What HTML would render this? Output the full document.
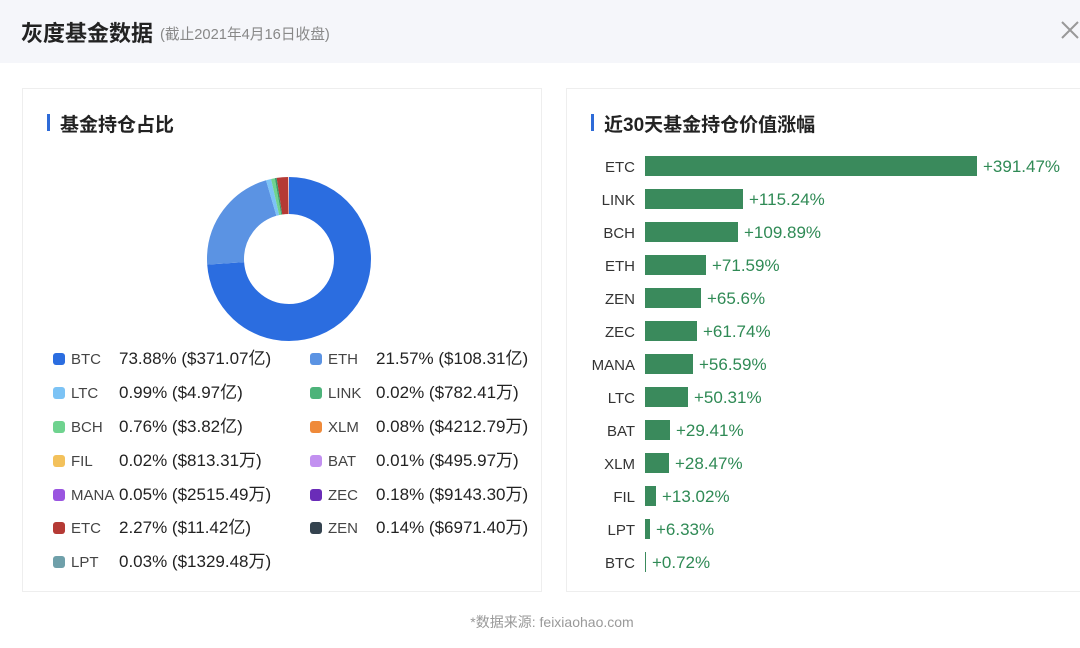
<!DOCTYPE html>
<html><head><meta charset="utf-8"><style>
body{margin:0;width:1080px;height:648px;overflow:hidden;background:#fff;font-family:"Liberation Sans","Noto Sans CJK SC",sans-serif;position:relative}
.hd{position:absolute;left:0;top:0;width:1080px;height:63px;background:#f5f6fa}
.t{position:absolute;left:21px;top:16px;font-size:22px;font-weight:bold;color:#222}
.st{position:absolute;left:160px;top:23px;font-size:14.7px;color:#888}
.card{position:absolute;border:1px solid #eee;background:#fff}
.ct{position:absolute;font-size:19px;color:#222;font-weight:bold}
.ct:before{content:"";position:absolute;left:-13px;top:4px;width:3px;height:17px;background:#2e6bd8}
.lg{position:absolute;font-size:15px;color:#333}
.lg .sw{position:absolute;left:0;top:3px;width:12px;height:12px;border-radius:3px}
.lg .n{position:absolute;left:18px;top:1px;color:#444}
.lg .v{position:absolute;left:66px;top:-6px;font-size:17px;color:#222;white-space:nowrap}
.row{position:absolute;left:566px;height:20px;width:514px}
.row .l{position:absolute;right:445px;top:3px;font-size:15px;color:#333}
.row .b{position:absolute;left:79px;top:0;height:20px;background:#3a8a5c}
.row .p{position:absolute;top:1px;font-size:17px;color:#2f8a55}
</style></head><body>
<div class="hd"></div>
<div class="t">灰度基金数据</div>
<div class="st">(截止2021年4月16日收盘)</div>
<svg style="position:absolute;left:1060px;top:20px" width="20" height="20"><path d="M2 2L18 18M18 2L2 18" stroke="#999" stroke-width="2"/></svg>
<div class="card" style="left:22px;top:88px;width:518px;height:502px"></div>
<div class="card" style="left:566px;top:88px;width:520px;height:502px"></div>
<div class="ct" style="left:60px;top:110px">基金持仓占比</div>
<div class="ct" style="left:604px;top:110px">近30天基金持仓价值涨幅</div>
<svg style="position:absolute;left:189px;top:159px" width="200" height="200" viewBox="0 0 200 200">
<g transform="rotate(-90 100 100)" fill="none" stroke-width="37">
<circle cx="100" cy="100" r="63.5" stroke="#2b6de0" stroke-dasharray="294.7 400" stroke-dashoffset="0"/>
<circle cx="100" cy="100" r="63.5" stroke="#5b93e3" stroke-dasharray="86.1 400" stroke-dashoffset="-294.7"/>
<circle cx="100" cy="100" r="63.5" stroke="#7cc3f5" stroke-dasharray="4 400" stroke-dashoffset="-380.8"/>
<circle cx="100" cy="100" r="63.5" stroke="#6fd38f" stroke-dasharray="3 400" stroke-dashoffset="-384.8"/>
<circle cx="100" cy="100" r="63.5" stroke="#3a9a6a" stroke-dasharray="1.4 400" stroke-dashoffset="-387.8"/>
<circle cx="100" cy="100" r="63.5" stroke="#b53a35" stroke-dasharray="9 400" stroke-dashoffset="-389.2"/>
</g></svg>
<div class="lg" style="left:53px;top:350px"><span class="sw" style="background:#2b6de0"></span><span class="n">BTC</span><span class="v">73.88% ($371.07亿)</span></div>
<div class="lg" style="left:310px;top:350px"><span class="sw" style="background:#5b93e3"></span><span class="n">ETH</span><span class="v">21.57% ($108.31亿)</span></div>
<div class="lg" style="left:53px;top:384px"><span class="sw" style="background:#7cc3f5"></span><span class="n">LTC</span><span class="v">0.99% ($4.97亿)</span></div>
<div class="lg" style="left:310px;top:384px"><span class="sw" style="background:#4db37a"></span><span class="n">LINK</span><span class="v">0.02% ($782.41万)</span></div>
<div class="lg" style="left:53px;top:418px"><span class="sw" style="background:#6fd38f"></span><span class="n">BCH</span><span class="v">0.76% ($3.82亿)</span></div>
<div class="lg" style="left:310px;top:418px"><span class="sw" style="background:#ef8a3a"></span><span class="n">XLM</span><span class="v">0.08% ($4212.79万)</span></div>
<div class="lg" style="left:53px;top:452px"><span class="sw" style="background:#f3c15b"></span><span class="n">FIL</span><span class="v">0.02% ($813.31万)</span></div>
<div class="lg" style="left:310px;top:452px"><span class="sw" style="background:#c290f0"></span><span class="n">BAT</span><span class="v">0.01% ($495.97万)</span></div>
<div class="lg" style="left:53px;top:486px"><span class="sw" style="background:#9a55e0"></span><span class="n">MANA</span><span class="v">0.05% ($2515.49万)</span></div>
<div class="lg" style="left:310px;top:486px"><span class="sw" style="background:#6a2cb8"></span><span class="n">ZEC</span><span class="v">0.18% ($9143.30万)</span></div>
<div class="lg" style="left:53px;top:519px"><span class="sw" style="background:#b53a35"></span><span class="n">ETC</span><span class="v">2.27% ($11.42亿)</span></div>
<div class="lg" style="left:310px;top:519px"><span class="sw" style="background:#34434f"></span><span class="n">ZEN</span><span class="v">0.14% ($6971.40万)</span></div>
<div class="lg" style="left:53px;top:553px"><span class="sw" style="background:#6fa0aa"></span><span class="n">LPT</span><span class="v">0.03% ($1329.48万)</span></div>

<div class="row" style="top:156px"><span class="l">ETC</span><span class="b" style="width:332px"></span><span class="p" style="left:417px">+391.47%</span></div>
<div class="row" style="top:189px"><span class="l">LINK</span><span class="b" style="width:98px"></span><span class="p" style="left:183px">+115.24%</span></div>
<div class="row" style="top:222px"><span class="l">BCH</span><span class="b" style="width:93px"></span><span class="p" style="left:178px">+109.89%</span></div>
<div class="row" style="top:255px"><span class="l">ETH</span><span class="b" style="width:61px"></span><span class="p" style="left:146px">+71.59%</span></div>
<div class="row" style="top:288px"><span class="l">ZEN</span><span class="b" style="width:56px"></span><span class="p" style="left:141px">+65.6%</span></div>
<div class="row" style="top:321px"><span class="l">ZEC</span><span class="b" style="width:52px"></span><span class="p" style="left:137px">+61.74%</span></div>
<div class="row" style="top:354px"><span class="l">MANA</span><span class="b" style="width:48px"></span><span class="p" style="left:133px">+56.59%</span></div>
<div class="row" style="top:387px"><span class="l">LTC</span><span class="b" style="width:43px"></span><span class="p" style="left:128px">+50.31%</span></div>
<div class="row" style="top:420px"><span class="l">BAT</span><span class="b" style="width:25px"></span><span class="p" style="left:110px">+29.41%</span></div>
<div class="row" style="top:453px"><span class="l">XLM</span><span class="b" style="width:24px"></span><span class="p" style="left:109px">+28.47%</span></div>
<div class="row" style="top:486px"><span class="l">FIL</span><span class="b" style="width:11px"></span><span class="p" style="left:96px">+13.02%</span></div>
<div class="row" style="top:519px"><span class="l">LPT</span><span class="b" style="width:5px"></span><span class="p" style="left:90px">+6.33%</span></div>
<div class="row" style="top:552px"><span class="l">BTC</span><span class="b" style="width:1px"></span><span class="p" style="left:86px">+0.72%</span></div>

<div style="position:absolute;left:0;width:1104px;top:612px;text-align:center;font-size:14px;color:#999">*数据来源: feixiaohao.com</div>
</body></html>
